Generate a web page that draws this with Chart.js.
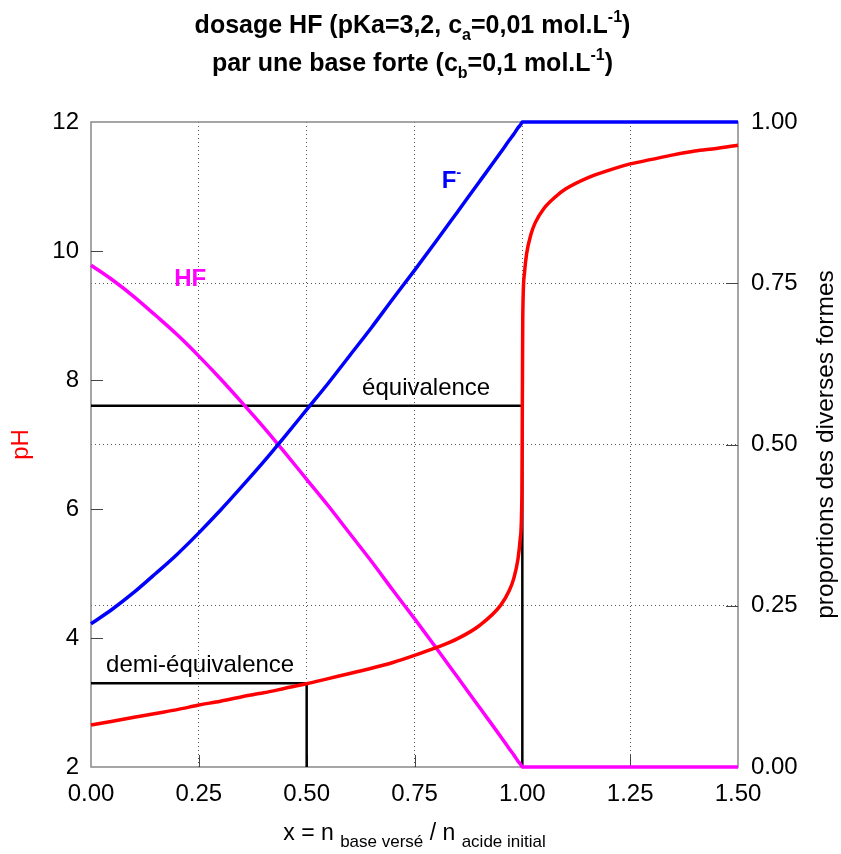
<!DOCTYPE html>
<html>
<head>
<meta charset="utf-8">
<script src="https://cdn.jsdelivr.net/npm/chart.js@4.4.0/dist/chart.umd.min.js"></script>
<style>
  html, body { margin: 0; padding: 0; background: #fff; }
  #wrap { width: 841px; height: 854px; }
</style>
</head>
<body>
<div id="wrap"><canvas id="dosage"></canvas></div>
<script>
// x = n base versé / n acide initial
const xValues = [0, 0.05, 0.1, 0.15, 0.2, 0.25, 0.3, 0.35, 0.4, 0.45, 0.5, 0.55, 0.6, 0.65, 0.7, 0.75, 0.8, 0.85, 0.9, 0.95,
    0.97, 0.98, 0.99, 0.995, 0.999, 1.0, 1.001, 1.005, 1.01, 1.02, 1.03, 1.05, 1.075, 1.1, 1.15, 1.2, 1.25, 1.3, 1.35, 1.4, 1.45, 1.5];
const phValues = [2.65, 2.71, 2.77, 2.83, 2.89, 2.96, 3.02, 3.09, 3.15, 3.22, 3.29, 3.37, 3.45, 3.53, 3.62, 3.73, 3.85, 3.99, 4.19, 4.51,
    4.74, 4.92, 5.23, 5.53, 6.23, 7.58, 8.96, 9.66, 9.96, 10.26, 10.44, 10.66, 10.83, 10.96, 11.13, 11.25, 11.35, 11.42, 11.49, 11.55, 11.59, 11.64];
const fluorideValues = [0.222, 0.245, 0.271, 0.300, 0.330, 0.363, 0.398, 0.435, 0.473, 0.513, 0.554, 0.595, 0.638, 0.681, 0.726, 0.770, 0.815, 0.861, 0.907, 0.953,
    0.972, 0.981, 0.991, 0.995, 0.999, 1, 1, 1, 1, 1, 1, 1, 1, 1, 1, 1, 1, 1, 1, 1, 1, 1];
const hfValues = [0.778, 0.755, 0.729, 0.700, 0.670, 0.637, 0.602, 0.565, 0.527, 0.487, 0.446, 0.405, 0.362, 0.319, 0.274, 0.230, 0.185, 0.139, 0.093, 0.047,
    0.028, 0.019, 0.009, 0.005, 0.001, 0, 0, 0, 0, 0, 0, 0, 0, 0, 0, 0, 0, 0, 0, 0, 0, 0];

// repères (x, pH)
const equivalenceLine = [[0, 7.6], [1, 7.6], [1, 2]];
const demiLine = [[0, 3.3], [0.5, 3.3], [0.5, 2]];

const FONT = "'Liberation Sans', Arial, sans-serif";
const red = '#ff0000';
const blue = '#0000ff';
const magenta = '#ff00ff';
const gridColor = '#555';
const frameColor = '#888';

Chart.defaults.font.family = FONT;
Chart.defaults.color = '#000';

function pts(xs, ys) {
    return xs.map((x, i) => ({ x: x, y: ys[i] }));
}
function pairs(list) {
    return list.map(p => ({ x: p[0], y: p[1] }));
}

// texte avec indices / exposants, centré sur cx
function richText(ctx, runs, cx, y) {
    let total = 0;
    runs.forEach(r => {
        ctx.font = (r.bold ? 'bold ' : '') + r.size + 'px ' + FONT;
        r.w = ctx.measureText(r.t).width;
        total += r.w;
    });
    let x = cx - total / 2;
    ctx.textAlign = 'left';
    ctx.textBaseline = 'alphabetic';
    runs.forEach(r => {
        ctx.font = (r.bold ? 'bold ' : '') + r.size + 'px ' + FONT;
        ctx.fillText(r.t, x, y + (r.dy || 0));
        x += r.w;
    });
}

const titleLine1 = [
    { t: 'dosage HF (pKa=3,2, c', size: 25, bold: true },
    { t: 'a', size: 16, bold: true, dy: 7 },
    { t: '=0,01 mol.L', size: 25, bold: true },
    { t: '-1', size: 16, bold: true, dy: -11 },
    { t: ')', size: 25, bold: true }
];
const titleLine2 = [
    { t: 'par une base forte (c', size: 25, bold: true },
    { t: 'b', size: 16, bold: true, dy: 7 },
    { t: '=0,1 mol.L', size: 25, bold: true },
    { t: '-1', size: 16, bold: true, dy: -11 },
    { t: ')', size: 25, bold: true }
];
const xTitle = [
    { t: 'x = n ', size: 23 },
    { t: 'base versé', size: 17, dy: 7 },
    { t: ' / n ', size: 23 },
    { t: 'acide initial', size: 17, dy: 7 }
];

// étiquettes placées en coordonnées (x, pH)
const curveLabels = [
    { text: 'HF', x: 0.23, y: 9.46, color: magenta, bold: true, size: 24 },
    { text: 'équivalence', x: 0.777, y: 7.77, color: '#000', size: 24 },
    { text: 'demi-équivalence', x: 0.253, y: 3.48, color: '#000', size: 24 }
];

const overlay = {
    id: 'overlay',
    beforeDatasetsDraw(chart) {
        const { ctx, chartArea: a, scales } = chart;
        ctx.save();
        ctx.strokeStyle = frameColor;
        ctx.lineWidth = 1.5;
        ctx.strokeRect(a.left, a.top, a.width, a.height);
        // petites graduations vers l'intérieur
        ctx.strokeStyle = '#444';
        ctx.lineWidth = 1;
        ctx.beginPath();
        scales.y.ticks.forEach(t => {
            if (t.value <= 2 || t.value >= 12) return;
            const py = Math.round(scales.y.getPixelForValue(t.value)) + 0.5;
            ctx.moveTo(a.left, py); ctx.lineTo(a.left + 12, py);
        });
        scales.y1.ticks.forEach(t => {
            if (t.value <= 0 || t.value >= 1) return;
            const py = Math.round(scales.y1.getPixelForValue(t.value)) + 0.5;
            ctx.moveTo(a.right - 12, py); ctx.lineTo(a.right, py);
        });
        scales.x.ticks.forEach(t => {
            if (t.value <= 0 || t.value >= 1.5) return;
            const px = Math.round(scales.x.getPixelForValue(t.value)) + 0.5;
            ctx.moveTo(px, a.bottom); ctx.lineTo(px, a.bottom - 12);
        });
        ctx.stroke();
        ctx.restore();
    },
    afterDraw(chart) {
        const { ctx, chartArea: a, scales } = chart;
        const cx = (a.left + a.right) / 2;
        ctx.save();
        ctx.fillStyle = '#000';
        richText(ctx, titleLine1, cx - 2, 33);
        richText(ctx, titleLine2, cx - 2, 71);
        richText(ctx, xTitle, cx, 840);

        // titre de l'axe de droite
        ctx.save();
        ctx.translate(826, (a.top + a.bottom) / 2);
        ctx.rotate(-Math.PI / 2);
        ctx.font = '24.5px ' + FONT;
        ctx.textAlign = 'center';
        ctx.textBaseline = 'middle';
        ctx.fillText('proportions des diverses formes', 0, 0);
        ctx.restore();

        curveLabels.forEach(l => {
            ctx.font = (l.bold ? 'bold ' : '') + l.size + 'px ' + FONT;
            ctx.fillStyle = l.color;
            ctx.textAlign = 'center';
            ctx.textBaseline = 'alphabetic';
            ctx.fillText(l.text, scales.x.getPixelForValue(l.x), scales.y.getPixelForValue(l.y));
        });

        // F- avec exposant
        const fx = scales.x.getPixelForValue(0.813);
        const fy = scales.y.getPixelForValue(10.97);
        ctx.fillStyle = blue;
        ctx.textAlign = 'left';
        ctx.font = 'bold 24px ' + FONT;
        ctx.fillText('F', fx, fy);
        const fw = ctx.measureText('F').width;
        ctx.font = 'bold 15px ' + FONT;
        ctx.fillText('-', fx + fw, fy - 11);
        ctx.restore();
    }
};

const edgeColor = (lo, hi) => (c) => (c.tick && (c.tick.value <= lo || c.tick.value >= hi)) ? 'rgba(0,0,0,0)' : gridColor;

new Chart(document.getElementById('dosage'), {
    type: 'line',
    data: {
        datasets: [
            {
                label: 'pH',
                data: pts(xValues, phValues),
                yAxisID: 'y',
                borderColor: red,
                borderWidth: 3.5,
                cubicInterpolationMode: 'monotone',
                pointRadius: 0,
                clip: false
            },
            {
                label: 'F-',
                data: pts(xValues, fluorideValues),
                yAxisID: 'y1',
                borderColor: blue,
                borderWidth: 3.5,
                cubicInterpolationMode: 'monotone',
                pointRadius: 0,
                clip: false
            },
            {
                label: 'HF',
                data: pts(xValues, hfValues),
                yAxisID: 'y1',
                borderColor: magenta,
                borderWidth: 3.5,
                cubicInterpolationMode: 'monotone',
                pointRadius: 0,
                clip: false
            },
            {
                label: 'équivalence',
                data: pairs(equivalenceLine),
                yAxisID: 'y',
                borderColor: '#000',
                borderWidth: 2.5,
                tension: 0,
                pointRadius: 0,
                clip: false
            },
            {
                label: 'demi-équivalence',
                data: pairs(demiLine),
                yAxisID: 'y',
                borderColor: '#000',
                borderWidth: 2.5,
                tension: 0,
                pointRadius: 0,
                clip: false
            }
        ]
    },
    options: {
        responsive: true,
        maintainAspectRatio: false,
        animation: false,
        layout: { padding: { top: 122, left: 0, right: 0, bottom: 0 } },
        plugins: {
            legend: { display: false },
            tooltip: { enabled: false },
            title: { display: false }
        },
        scales: {
            x: {
                type: 'linear',
                min: 0,
                max: 1.5,
                afterFit: s => { s.height = 87; },
                ticks: {
                    stepSize: 0.25,
                    callback: v => v.toFixed(2),
                    font: { size: 24 },
                    color: '#000',
                    padding: 13,
                    maxRotation: 0,
                    autoSkip: false
                },
                grid: { color: edgeColor(0, 1.5), lineWidth: 1, drawTicks: false },
                border: { display: false, dash: [1, 3] }
            },
            y: {
                position: 'left',
                min: 2,
                max: 12,
                afterFit: s => { s.width = 91; },
                ticks: { stepSize: 2, font: { size: 24 }, color: '#000', padding: 12 },
                grid: { display: false, drawTicks: false },
                border: { display: false },
                title: {
                    display: true,
                    text: 'pH',
                    color: red,
                    font: { size: 24 },
                    padding: { top: 7, bottom: 0 }
                }
            },
            y1: {
                position: 'right',
                min: 0,
                max: 1,
                afterFit: s => { s.width = 103; },
                ticks: {
                    stepSize: 0.25,
                    callback: v => v.toFixed(2),
                    font: { size: 24 },
                    color: '#000',
                    padding: 13
                },
                grid: { color: edgeColor(0, 1), lineWidth: 1, drawTicks: false },
                border: { display: false, dash: [1, 3] }
            }
        }
    },
    plugins: [overlay]
});
</script>
</body>
</html>
